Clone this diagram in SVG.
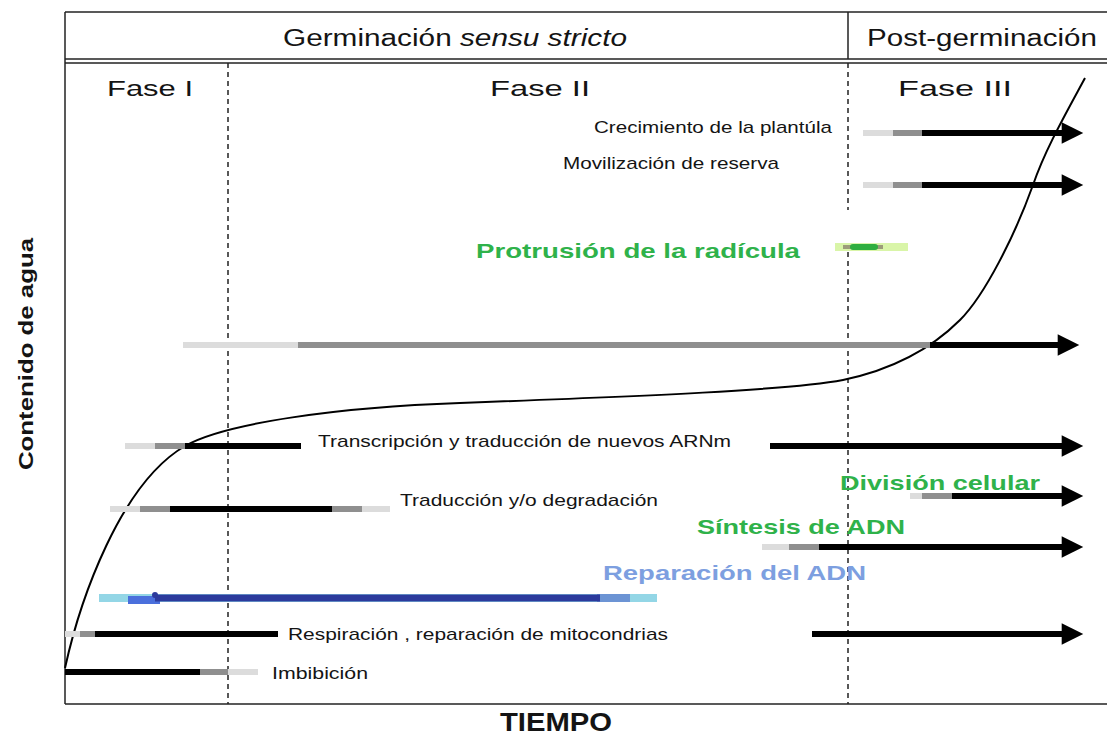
<svg xmlns="http://www.w3.org/2000/svg" width="1107" height="734" viewBox="0 0 1107 734">
<defs>
<style>
.t{font-family:"Liberation Sans",Arial,sans-serif;fill:#141414}
.g{font-family:"Liberation Sans",Arial,sans-serif;font-weight:bold;fill:#2fb24a}
.frame{fill:none;stroke:#222;stroke-width:1.5}
.dash{stroke:#222;stroke-width:1.5;stroke-dasharray:5,4;fill:none}
.lg{stroke:#dcdcdc;stroke-width:6}
.mg{stroke:#8f8f8f;stroke-width:6}
.bk{stroke:#000;stroke-width:6}
</style>
<marker id="ah" viewBox="0 0 10 10" refX="2" refY="5" markerWidth="4" markerHeight="3.6" markerUnits="strokeWidth" orient="auto">
<path d="M0,0 L10,5 L0,10 z" fill="#000"/>
</marker>
</defs>
<rect width="1107" height="734" fill="#fff"/>
<g id="frame">
<line class="frame" x1="65" y1="12" x2="1107" y2="12"/>
<line class="frame" x1="65" y1="12" x2="65" y2="704"/>
<line class="frame" x1="848" y1="12" x2="848" y2="59"/>
<line class="frame" x1="65" y1="59" x2="1107" y2="59"/>
<line class="frame" x1="65" y1="63" x2="1107" y2="63"/>
<line class="frame" x1="65" y1="704" x2="1107" y2="704"/>
<line class="dash" x1="228" y1="63" x2="228" y2="704"/>
<line class="dash" x1="848" y1="63" x2="848" y2="210"/>
<line class="dash" x1="848" y1="252" x2="848" y2="704"/>
</g>
<g id="headers">
<text class="t" x="283" y="46" font-size="23" textLength="344" lengthAdjust="spacingAndGlyphs">Germinación <tspan font-style="italic">sensu stricto</tspan></text>
<text class="t" x="867" y="46" font-size="23" textLength="230" lengthAdjust="spacingAndGlyphs">Post-germinación</text>
<text class="t" x="107" y="96" font-size="22" textLength="86" lengthAdjust="spacingAndGlyphs">Fase  I</text>
<text class="t" x="490" y="96" font-size="22" textLength="100" lengthAdjust="spacingAndGlyphs">Fase  II</text>
<text class="t" x="898" y="96" font-size="22" textLength="114" lengthAdjust="spacingAndGlyphs">Fase  III</text>
</g>
<g id="axes-labels">
<text class="t" x="500" y="731" font-size="25" font-weight="bold" fill="#000" textLength="112" lengthAdjust="spacingAndGlyphs">TIEMPO</text>
<text class="t" transform="translate(33,354) rotate(-90)" font-size="21" font-weight="bold" text-anchor="middle" textLength="232" lengthAdjust="spacingAndGlyphs">Contenido de agua</text>
</g>
<g id="curve">
<path d="M65,668 C80,600 120,484 185,446 C225,423 340,407 460,403 C650,396 790,390 843,380 C900,368 935,345 960,320 C985,295 1015,235 1033,185 C1045,150 1065,115 1085,78" fill="none" stroke="#000" stroke-width="2"/>
</g>
<g id="connectors">
<g id="row-crecimiento">
<line class="lg" x1="863" y1="133" x2="893" y2="133"/>
<line class="mg" x1="893" y1="133" x2="922" y2="133"/>
<line class="bk" x1="922" y1="133" x2="1066" y2="133" marker-end="url(#ah)"/>
</g>
<g id="row-movilizacion">
<line class="lg" x1="863" y1="185" x2="893" y2="185"/>
<line class="mg" x1="893" y1="185" x2="922" y2="185"/>
<line class="bk" x1="922" y1="185" x2="1066" y2="185" marker-end="url(#ah)"/>
</g>
<g id="row-protrusion">
<rect x="835" y="243" width="73" height="8" fill="#d9f5a8"/>
<rect x="843" y="245" width="40" height="4" fill="#9c9c7a"/>
<rect x="850" y="244" width="28" height="6" rx="3" fill="#2fae3f"/>
</g>
<g id="row-345">
<line class="lg" x1="183" y1="345" x2="298" y2="345"/>
<line class="mg" x1="298" y1="345" x2="930" y2="345"/>
<line class="bk" x1="930" y1="345" x2="1062" y2="345" marker-end="url(#ah)"/>
</g>
<g id="row-transcripcion">
<line class="lg" x1="125" y1="446" x2="155" y2="446"/>
<line class="mg" x1="155" y1="446" x2="185" y2="446"/>
<line class="bk" x1="185" y1="446" x2="301" y2="446"/>
<line class="bk" x1="770" y1="446" x2="1066" y2="446" marker-end="url(#ah)"/>
</g>
<g id="row-traduccion">
<line class="lg" x1="110" y1="509" x2="140" y2="509"/>
<line class="mg" x1="140" y1="509" x2="170" y2="509"/>
<line class="bk" x1="170" y1="509" x2="332" y2="509"/>
<line class="mg" x1="332" y1="509" x2="362" y2="509"/>
<line class="lg" x1="362" y1="509" x2="390" y2="509"/>
</g>
<g id="row-division">
<line class="lg" x1="910" y1="496" x2="922" y2="496"/>
<line class="mg" x1="922" y1="496" x2="952" y2="496"/>
<line class="bk" x1="952" y1="496" x2="1066" y2="496" marker-end="url(#ah)"/>
</g>
<g id="row-sintesis">
<line class="lg" x1="762" y1="547" x2="789" y2="547"/>
<line class="mg" x1="789" y1="547" x2="819" y2="547"/>
<line class="bk" x1="819" y1="547" x2="1066" y2="547" marker-end="url(#ah)"/>
</g>
<g id="row-reparacion">
<line stroke="#93d6e6" stroke-width="8" x1="99" y1="598" x2="657" y2="598"/>
<line stroke="#4a6fdc" stroke-width="8" x1="128" y1="600" x2="160" y2="600"/>
<line stroke="#6c94d4" stroke-width="8" x1="597" y1="598" x2="630" y2="598"/>
<line stroke="#2c3a9c" stroke-width="7" x1="155" y1="598" x2="600" y2="598"/>
<circle cx="155" cy="595" r="3" fill="#2c3a9c"/>
</g>
<g id="row-respiracion">
<line class="lg" x1="65" y1="634" x2="80" y2="634"/>
<line class="mg" x1="80" y1="634" x2="95" y2="634"/>
<line class="bk" x1="95" y1="634" x2="278" y2="634"/>
<line class="bk" x1="812" y1="634" x2="1066" y2="634" marker-end="url(#ah)"/>
</g>
<g id="row-imbibicion">
<line class="bk" x1="65" y1="672" x2="200" y2="672"/>
<line class="mg" x1="200" y1="672" x2="228" y2="672"/>
<line class="lg" x1="228" y1="672" x2="258" y2="672"/>
</g>
</g>
<g id="labels">
<text class="t" x="594" y="133" font-size="17" textLength="238" lengthAdjust="spacingAndGlyphs">Crecimiento de la plantúla</text>
<text class="t" x="563" y="169" font-size="17" textLength="216" lengthAdjust="spacingAndGlyphs">Movilización de reserva</text>
<text class="g" x="476" y="258" font-size="21" textLength="324" lengthAdjust="spacingAndGlyphs">Protrusión de la radícula</text>
<text class="t" x="318" y="447" font-size="17" textLength="413" lengthAdjust="spacingAndGlyphs">Transcripción y traducción de nuevos ARNm</text>
<text class="t" x="400" y="506" font-size="17" textLength="258" lengthAdjust="spacingAndGlyphs">Traducción y/o degradación</text>
<text class="g" x="840" y="490" font-size="21" textLength="200" lengthAdjust="spacingAndGlyphs">División celular</text>
<text class="g" x="697" y="534" font-size="21" textLength="208" lengthAdjust="spacingAndGlyphs">Síntesis de ADN</text>
<text class="g" x="603" y="580" font-size="21" style="fill:#7d9fe0" textLength="263" lengthAdjust="spacingAndGlyphs">Reparación del ADN</text>
<text class="t" x="288" y="640" font-size="17" textLength="380" lengthAdjust="spacingAndGlyphs">Respiración , reparación de mitocondrias</text>
<text class="t" x="272" y="679" font-size="17" textLength="96" lengthAdjust="spacingAndGlyphs">Imbibición</text>
</g>
</svg>
